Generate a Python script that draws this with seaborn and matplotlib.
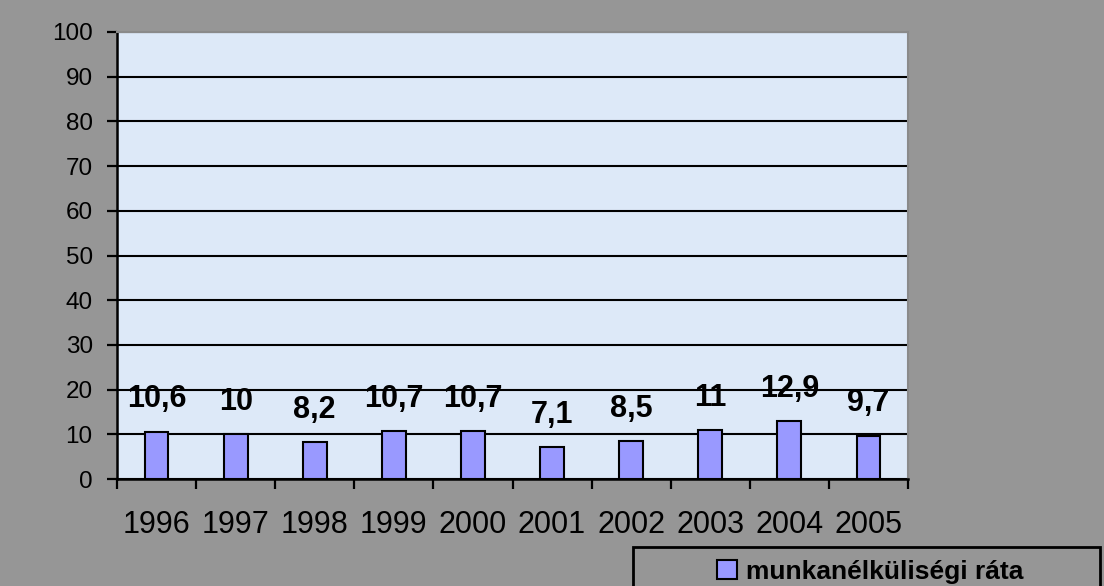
import matplotlib
matplotlib.use("Agg")
import matplotlib.pyplot as plt
import seaborn as sns
import pandas as pd
from matplotlib.patches import Rectangle, Patch

years = ["1996", "1997", "1998", "1999", "2000", "2001", "2002", "2003", "2004", "2005"]
rates = [10.6, 10.0, 8.2, 10.7, 10.7, 7.1, 8.5, 11.0, 12.9, 9.7]
series_name = "munkanélküliségi ráta"
y_ticks = [0, 10, 20, 30, 40, 50, 60, 70, 80, 90, 100]

sns.set_theme(style="white")
plt.rcParams["font.family"] = ["Liberation Sans", "DejaVu Sans"]
plt.rcParams["text.color"] = "black"
plt.rcParams["xtick.color"] = "black"
plt.rcParams["ytick.color"] = "black"
plt.rcParams["axes.labelcolor"] = "black"

FIG_BG = "#969696"
PLOT_BG = "#dde9f8"
BAR_COLOR = "#9999ff"

W, H = 1104, 586
fig = plt.figure(figsize=(W / 100, H / 100), dpi=100, facecolor=FIG_BG)
ax = fig.add_axes([117 / W, 1 - 479 / H, (908 - 117) / W, (479 - 32) / H])
ax.set_facecolor(PLOT_BG)

df = pd.DataFrame({"year": years, "rate": rates})
sns.barplot(data=df, x="year", y="rate", color=BAR_COLOR, saturation=1,
            width=0.30, edgecolor="black", linewidth=1.5, ax=ax, zorder=3)

ax.set_xlim(-0.5, len(years) - 0.5)
ax.set_ylim(0, 100)
ax.set_yticks(y_ticks)
ax.set_yticklabels([str(t) for t in y_ticks])
ax.set_xlabel("")
ax.set_ylabel("")

# gridlines
ax.set_axisbelow(True)
ax.yaxis.grid(True, color="black", linewidth=1.5)
ax.xaxis.grid(False)

# spines
for s in ["left", "bottom"]:
    ax.spines[s].set_color("black")
    ax.spines[s].set_linewidth(1.8)
for s in ["top", "right"]:
    ax.spines[s].set_color("#8a8a8a")
    ax.spines[s].set_linewidth(1.5)
ax.spines["top"].set_zorder(5)

# ticks
ax.set_xticks(range(len(years)))
ax.set_xticklabels(years)
ax.set_xticks([i - 0.5 for i in range(len(years) + 1)], minor=True)
ax.tick_params(axis="x", which="major", length=0, pad=22, labelsize=22, labelcolor="black")
ax.tick_params(axis="x", which="minor", length=7.5, width=1.6, color="black", direction="out", bottom=True)
ax.tick_params(axis="y", which="major", length=7.5, width=1.6, color="black", direction="out",
               left=True, pad=10, labelsize=17.5, labelcolor="black")

# data labels
for i, v in enumerate(rates):
    ax.annotate(f"{v:g}".replace(".", ","), xy=(i, v), xytext=(0, 17.5),
                textcoords="offset points", ha="center", va="baseline",
                fontsize=22, fontweight="bold", color="black", zorder=6)

# legend box
fig.patches.append(Rectangle((633 / W, -0.05), (1100 - 633) / W, 0.05 + (1 - 547 / H),
                             transform=fig.transFigure, facecolor=FIG_BG,
                             edgecolor="black", linewidth=2, zorder=1))
handle = Patch(facecolor=BAR_COLOR, edgecolor="black", linewidth=1.5)
fig.legend([handle], [series_name], loc="center",
           bbox_to_anchor=(870 / W, 1 - 572 / H), bbox_transform=fig.transFigure,
           frameon=False, prop={"size": 19, "weight": "bold"}, labelcolor="black",
           handlelength=0.75, handleheight=0.75, handletextpad=0.35)

fig.savefig("out.png", dpi=100, facecolor=FIG_BG)
